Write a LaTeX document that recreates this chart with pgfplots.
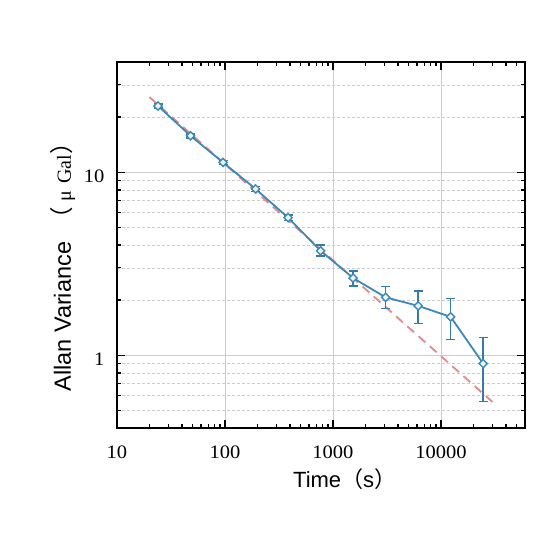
\documentclass[border=0pt]{standalone}
\usepackage{fontspec}
\setmainfont{Liberation Sans}
\newfontfamily\tickfont[FakeStretch=1.08]{Liberation Serif}
\newfontfamily\cjk{Noto Sans CJK SC}
\newfontfamily\serif{Liberation Serif}
\usepackage{pgfplots}
\usepackage{pgfplotstable}
\pgfplotsset{compat=1.18}
\definecolor{lblue}{HTML}{3B89BA}
\definecolor{lred}{HTML}{E8868E}
\pgfplotstableread{
x y ep em
24 23.0 0.6 0.6
48 15.8 0.4 0.4
96 11.3 0.3 0.3
192 8.1 0.25 0.25
384 5.64 0.2 0.2
768 3.72 0.28 0.24
1536 2.64 0.25 0.25
3072 2.07 0.30 0.27
6144 1.86 0.38 0.37
12288 1.62 0.42 0.40
24576 0.90 0.35 0.34
}\allan
\begin{document}
\begin{tikzpicture}
\begin{axis}[
  xmode=log, ymode=log,
  scale only axis, width=408pt, height=366pt,
  xmin=10, xmax=60000, ymin=0.4, ymax=40,
  axis line style={line width=1.6pt},
  tick align=inside, xtick pos=both, ytick pos=both,
  major tick length=8pt, minor tick length=4.5pt,
  every tick/.style={black, line width=1.2pt},
  xtick={10,100,1000,10000}, xticklabels={10,100,1000,10000},
  ytick={1,10}, yticklabels={1,10},
  minor xtick={20,30,40,50,60,70,80,90,200,300,400,500,600,700,800,900,2000,3000,4000,5000,6000,7000,8000,9000,20000,30000,40000,50000},
  minor ytick={0.5,0.6,0.7,0.8,0.9,2,3,4,5,6,7,8,9,20,30},
  xmajorgrids, ymajorgrids, yminorgrids,
  major grid style={black!20, line width=0.7pt},
  minor grid style={black!20, line width=0.6pt, dash pattern=on 3pt off 2pt},
  /pgf/number format/assume math mode=true,
  tick label style={font=\tickfont\fontsize{19}{19}\selectfont},
  xticklabel style={anchor=base, yshift=-31pt},
  yticklabel style={anchor=east, xshift=-9pt, yshift=-4pt},
  xlabel={Time{\cjk （}s{\cjk ）}},
  ylabel={Allan Variance\hspace{11pt}{\cjk （}{\serif\fontsize{20}{20}\selectfont\hspace{6pt}μ\hspace{7pt}Gal}{\cjk ）}},
  x label style={font=\fontsize{22}{22}\selectfont, at={(axis description cs:0.558,-0.163)}, anchor=base},
  y label style={font=\fontsize{23.5}{23.5}\selectfont, at={(axis description cs:-0.113,0.455)}, anchor=base, rotate=0},
]
\addplot[lred, line width=1.8pt, dash pattern=on 9pt off 6pt] coordinates {(20,25.7) (30000,0.555)};
\addplot[lblue, line width=1.8pt, mark=square*, mark size=2.9pt,
  mark options={fill=lblue!8, solid, rotate=45, line width=1.4pt},
  error bars/.cd, y dir=both, y explicit,
  error bar style={draw=lblue!90!black, line width=1.4pt},
  error mark options={draw=lblue!90!black, rotate=90, mark size=4.5pt, line width=1.4pt}]
  table[x=x, y=y, y error plus=ep, y error minus=em] {\allan};
\end{axis}
\path ([xshift=-117pt,yshift=-125pt]current axis.south west) rectangle ([xshift=28pt,yshift=62pt]current axis.north east);
\end{tikzpicture}
\end{document}
